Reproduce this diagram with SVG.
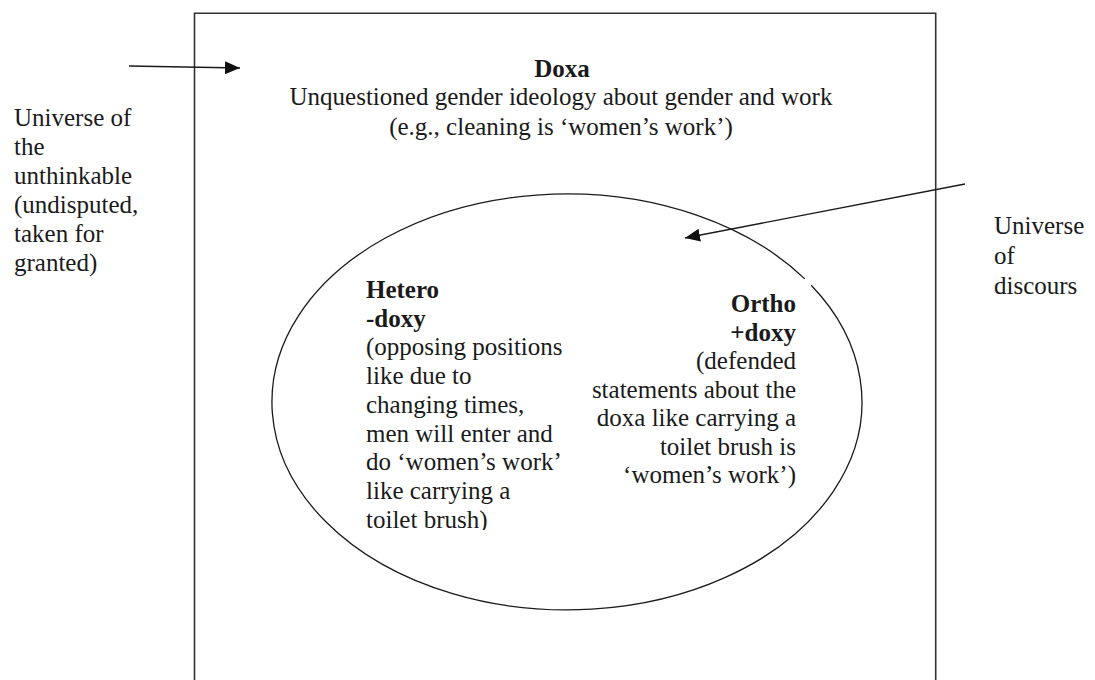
<svg xmlns="http://www.w3.org/2000/svg" width="1095" height="680" viewBox="0 0 1095 680">
  <style>
    .t { font-family: "Liberation Serif", "Times New Roman", serif; font-size: 25px; fill: #1a1a1a; }
    .b { font-weight: bold; }
    .edge { fill: none; stroke: #1a1a1a; stroke-width: 1.3; }
    .frame { fill: none; stroke: #333; stroke-width: 1.6; }
  </style>
  <defs>
    <marker id="head" markerUnits="userSpaceOnUse" markerWidth="15" markerHeight="13" refX="15" refY="6.5" orient="auto">
      <path d="M0,0 L15,6.5 L0,13 z" fill="#111"/>
    </marker>
    <clipPath id="heteroClip">
      <rect x="350" y="270" width="220" height="260"/>
    </clipPath>
  </defs>

  <rect width="1095" height="680" fill="#fff"/>

  <!-- outer field: universe of the undisputed -->
  <g id="doxa">
    <path class="frame" d="M194.5 690 V13.3 H935.7 V690"/>
    <text class="t b" x="562" y="77" text-anchor="middle" font-size="26">Doxa</text>
    <text class="t" x="561" y="105" text-anchor="middle">Unquestioned gender ideology about gender and work</text>
    <text class="t" x="561" y="135" text-anchor="middle">(e.g., cleaning is ‘women’s work’)</text>
  </g>

  <!-- inner field: universe of discourse -->
  <g id="discourse">
    <path class="edge" d="M804.8 278.9 A295 208 0 1 0 811.2 285.3"/>
  </g>

  <g id="heterodoxy" clip-path="url(#heteroClip)">
    <text class="t b" x="366" y="298">Hetero</text>
    <text class="t b" x="366" y="326.7">-doxy</text>
    <text class="t" x="366" y="355.4">(opposing positions</text>
    <text class="t" x="366" y="384.1">like due to</text>
    <text class="t" x="366" y="412.8">changing times,</text>
    <text class="t" x="366" y="441.5">men will enter and</text>
    <text class="t" x="366" y="470.2">do ‘women’s work’</text>
    <text class="t" x="366" y="498.9">like carrying a</text>
    <text class="t" x="366" y="527.6">toilet brush)</text>
  </g>

  <g id="orthodoxy" text-anchor="end">
    <text class="t b" x="796" y="312">Ortho</text>
    <text class="t b" x="796" y="340.5">+doxy</text>
    <text class="t" x="796" y="369">(defended</text>
    <text class="t" x="796" y="397.5">statements about the</text>
    <text class="t" x="796" y="426">doxa like carrying a</text>
    <text class="t" x="796" y="454.5">toilet brush is</text>
    <text class="t" x="796" y="483">‘women’s work’)</text>
  </g>

  <g id="label-unthinkable">
    <text class="t" x="14" y="126">Universe of</text>
    <text class="t" x="14" y="155">the</text>
    <text class="t" x="14" y="184">unthinkable</text>
    <text class="t" x="14" y="213">(undisputed,</text>
    <text class="t" x="14" y="242">taken for</text>
    <text class="t" x="14" y="271">granted)</text>
  </g>

  <g id="label-discours">
    <text class="t" x="994" y="234">Universe</text>
    <text class="t" x="994" y="264">of</text>
    <text class="t" x="994" y="294">discours</text>
  </g>

  <g id="connectors">
    <line class="edge" x1="129" y1="66" x2="240" y2="68" marker-end="url(#head)"/>
    <line class="edge" x1="965" y1="184" x2="685" y2="238" marker-end="url(#head)"/>
  </g>
</svg>
